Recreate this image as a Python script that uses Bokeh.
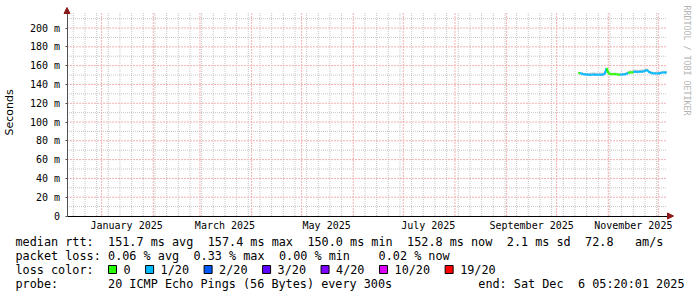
import math
from datetime import datetime

import pandas as pd
from bokeh.plotting import figure
from bokeh.models import (Range1d, FixedTicker, DatetimeTickFormatter,
                          Arrow, NormalHead, ColumnDataSource)
from bokeh.core.properties import value
from bokeh.embed import file_html
from bokeh.resources import INLINE

# ---------------- data ----------------
t_start = datetime(2024, 12, 11, 5, 20, 1)
t_end = datetime(2025, 12, 6, 5, 20, 1)
series_first_day = "2025-10-14"

median_ms = [152.3, 151.9, 151.5, 151.0, 150.6, 150.4, 150.5, 150.2, 150.3, 150.6,
             150.4, 150.1, 150.3, 150.5, 150.2, 150.4, 151.5, 157.4, 152.0, 151.2,
             150.8, 150.9, 151.1, 150.7, 150.5, 150.3, 150.6, 150.4, 150.8, 151.2,
             152.4, 152.8, 152.6, 153.2, 153.6, 153.4, 153.1, 153.7, 153.3, 153.8,
             154.2, 155.6, 154.0, 152.6, 152.1, 151.8, 151.6, 151.9, 151.5, 152.0,
             152.4, 152.9, 152.6, 152.8]
loss_count = [0, 1, 1, 1, 1, 1, 1, 1, 1, 1,
              1, 1, 1, 1, 1, 1, 1, 0, 0, 0,
              0, 0, 0, 0, 0, 1, 1, 1, 1, 1,
              0, 0, 0, 1, 1, 1, 1, 1, 1, 1,
              1, 1, 1, 1, 1, 1, 1, 1, 1, 1,
              1, 1, 1, 1]
smoke_hi_ms = [153.5, 153.2, 152.8, 152.4, 152.0, 151.8, 152.1, 152.3, 152.6, 153.0,
               152.8, 152.5, 152.7, 152.9, 152.4, 152.8, 154.5, 158.5, 154.0, 152.8,
               152.5, 152.6, 152.7, 152.3, 152.0, 151.9, 152.2, 152.0, 152.4, 153.0,
               154.5, 155.0, 154.8, 155.4, 156.0, 155.8, 155.3, 156.2, 155.7, 156.4,
               156.8, 157.5, 156.0, 154.5, 153.8, 153.5, 153.2, 153.6, 153.0, 153.7,
               154.0, 154.6, 154.3, 154.5]
smoke_lo_ms = [151.5, 151.2, 150.8, 150.3, 149.9, 149.8, 149.8, 149.6, 149.7, 149.9,
               149.8, 149.5, 149.7, 149.8, 149.6, 149.8, 150.6, 155.0, 151.2, 150.5,
               150.1, 150.2, 150.4, 150.0, 149.8, 149.6, 149.9, 149.7, 150.1, 150.5,
               151.6, 152.0, 151.8, 152.4, 152.8, 152.6, 152.3, 152.9, 152.5, 153.0,
               153.4, 154.6, 153.2, 151.8, 151.3, 151.0, 150.8, 151.1, 150.7, 151.2,
               151.6, 152.1, 151.8, 152.0]

loss_levels = [0, 1, 2, 3, 4, 10, 19]
loss_labels = ["0", "1/20", "2/20", "3/20", "4/20", "10/20", "19/20"]
loss_colors = ["#26ff00", "#00b8ff", "#0059ff", "#5e00ff", "#7e00ff", "#dd00ff", "#ff0000"]

y_ticks = [0, 20, 40, 60, 80, 100, 120, 140, 160, 180, 200]
y_tick_labels = ["0", "20 m", "40 m", "60 m", "80 m", "100 m", "120 m",
                 "140 m", "160 m", "180 m", "200 m"]
y_minor_ticks = [10, 30, 50, 70, 90, 110, 130, 150, 170, 190, 210]
y_top = 216.5

label_dates = ["2025-01-16", "2025-03-16", "2025-05-16", "2025-07-16",
               "2025-09-16", "2025-11-16"]
month_start_dates = ["2025-01-01", "2025-02-01", "2025-03-01", "2025-04-01",
                     "2025-05-01", "2025-06-01", "2025-07-01", "2025-08-01",
                     "2025-09-01", "2025-10-01", "2025-11-01", "2025-12-01"]
first_week_line = "2024-12-15"

y_axis_title = "Seconds"
side_text = "RRDTOOL / TOBI OETIKER"
rtt_title = "median rtt:"
rtt_stats = ["151.7 ms avg", "157.4 ms max", "150.0 ms min", "152.8 ms now",
             "2.1 ms sd", "72.8", "am/s"]
loss_title = "packet loss:"
loss_stats = ["0.06 % avg", "0.33 % max", "0.00 % min", "0.02 % now"]
color_title = "loss color:"
probe_title = "probe:"
probe_text = "20 ICMP Echo Pings (56 Bytes) every 300s"
end_text = ["end: Sat Dec", "6 05:20:01 2025"]


def ms(d):
    d = pd.Timestamp(d).to_pydatetime()
    return (d - datetime(1970, 1, 1)).total_seconds() * 1000.0


# ---------------- geometry (canvas pixels -> data) ----------------
W, H = 697, 297
PL, PR, PT, PB = 66.5, 666.5, 12.0, 215.5      # plot area in canvas px
x0_ms, x1_ms = ms(t_start), ms(t_end)
mpp = (x1_ms - x0_ms) / (PR - PL)              # ms of time per pixel
vpp = 216.0 / 203.0                            # milliseconds (rtt) per pixel


def px_x(sx):
    return x0_ms + (sx - PL) * mpp


def px_y(sy):
    return (PB - sy) * vpp


p = figure(width=W, height=H, output_backend="svg", toolbar_location=None,
           x_range=Range1d(px_x(0), px_x(W)), y_range=Range1d(px_y(H), px_y(0)),
           x_axis_type="datetime", min_border=0,
           background_fill_color="white", border_fill_color="white")
p.outline_line_color = None
p.xgrid.visible = False
p.ygrid.visible = False

# ---------------- grid ----------------
month_ticks = [ms(d) for d in month_start_dates]
week_ticks = []
w = pd.Timestamp(first_week_line)
while ms(w) < x1_ms:
    if ms(w) not in month_ticks:
        week_ticks.append(ms(w))
    w += pd.Timedelta(days=7)

minor_col, major_col = "#b8b8b8", "#f2b0b0"
p.segment(x0=week_ticks, x1=week_ticks, y0=[0] * len(week_ticks),
          y1=[y_top] * len(week_ticks), line_color=minor_col, line_dash="1 1",
          line_width=1, line_alpha=0.8)
p.segment(x0=[x0_ms] * len(y_minor_ticks), x1=[x1_ms] * len(y_minor_ticks),
          y0=y_minor_ticks, y1=y_minor_ticks, line_color=minor_col, line_dash="1 1",
          line_width=1, line_alpha=0.8)
p.segment(x0=month_ticks, x1=month_ticks, y0=[0] * len(month_ticks),
          y1=[y_top] * len(month_ticks), line_color=major_col, line_dash="2 1",
          line_width=1)
p.segment(x0=[x0_ms] * (len(y_ticks) - 1), x1=[x1_ms] * (len(y_ticks) - 1),
          y0=y_ticks[1:], y1=y_ticks[1:], line_color=major_col, line_dash="2 1",
          line_width=1)

# ---------------- series ----------------
dates = pd.date_range(series_first_day, periods=len(median_ms), freq="D")
xs = [ms(d) for d in dates]
p.varea(x=xs, y1=smoke_lo_ms, y2=smoke_hi_ms, fill_color="#d2d2d2")

color_of = dict(zip(loss_levels, loss_colors))
seg = ColumnDataSource(dict(
    x0=xs[:-1], x1=xs[1:], y0=median_ms[:-1], y1=median_ms[1:],
    c=[color_of[l] for l in loss_count[:-1]]))
p.segment(x0="x0", y0="y0", x1="x1", y1="y1", line_color="c", line_width=2.2, source=seg)

# ---------------- axes (fixed inside the full-canvas frame) ----------------
fmt = "%B %Y"
p.xaxis.fixed_location = 0
p.xaxis.bounds = (x0_ms, px_x(671))
p.xaxis.ticker = FixedTicker(ticks=[ms(d) for d in label_dates])
p.xaxis.formatter = DatetimeTickFormatter(
    microseconds=fmt, milliseconds=fmt, seconds=fmt, minsec=fmt, minutes=fmt,
    hourmin=fmt, hours=fmt, days=fmt, months=fmt, years=fmt)
p.xaxis.major_tick_line_color = None
p.xaxis.minor_tick_line_color = None
p.xaxis.major_tick_out = 0
p.xaxis.major_tick_in = 0
p.xaxis.minor_tick_out = 0
p.xaxis.major_label_standoff = 4
p.xaxis.axis_line_color = "#000000"
p.xaxis.major_label_text_font = "DejaVu Sans Mono"
p.xaxis.major_label_text_font_size = "10px"
p.xaxis.major_label_text_color = "#000000"

p.yaxis.fixed_location = x0_ms
p.yaxis.bounds = (0, px_y(8))
p.yaxis.ticker = FixedTicker(ticks=y_ticks)
p.yaxis.major_label_overrides = dict(zip(y_ticks, y_tick_labels))
p.yaxis.major_tick_out = 2
p.yaxis.major_tick_in = 0
p.yaxis.minor_tick_line_color = None
p.yaxis.major_tick_line_color = "#505050"
p.yaxis.axis_line_color = "#505050"
p.yaxis.major_label_standoff = 5
p.yaxis.major_label_text_font = "DejaVu Sans Mono"
p.yaxis.major_label_text_font_size = "10px"
p.yaxis.major_label_text_color = "#000000"
p.yaxis.axis_label = y_axis_title
p.yaxis.axis_label_text_font = "DejaVu Sans"
p.yaxis.axis_label_text_font_size = "11px"
p.yaxis.axis_label_text_font_style = "normal"
p.yaxis.axis_label_text_color = "#000000"
p.yaxis.axis_label_standoff = 11

# axis arrows
arrow_col = "#8b1a1a"
p.add_layout(Arrow(end=NormalHead(size=6, fill_color=arrow_col, line_color=arrow_col),
                   x_start=x0_ms, y_start=px_y(12), x_end=x0_ms, y_end=px_y(7),
                   line_color=arrow_col, line_width=1))
p.add_layout(Arrow(end=NormalHead(size=6, fill_color=arrow_col, line_color=arrow_col),
                   x_start=px_x(667), y_start=0, x_end=px_x(673), y_end=0,
                   line_color=arrow_col, line_width=1))

# vertical credit text on the right
p.text(x=[px_x(686)], y=[px_y(60)], text=[side_text], angle=-math.pi / 2,
       text_align="center", text_baseline="middle",
       text_font=value("DejaVu Sans Mono"), text_font_size="8.3px",
       text_color="#b4b4b4")

# ---------------- legend block ----------------
X0, CW = 15, 7.12
rows_px = [241, 255, 269, 283]
tx, ty, tt = [], [], []


def put(col, row, s):
    tx.append(px_x(X0 + col * CW))
    ty.append(px_y(rows_px[row]))
    tt.append(s)


put(0, 0, rtt_title)
for c, s in zip([13, 27, 41, 55, 69, 80, 87], rtt_stats):
    put(c, 0, s)
put(0, 1, loss_title)
for c, s in zip([13, 25, 37, 51], loss_stats):
    put(c, 1, s)
put(0, 2, color_title)
put(0, 3, probe_title)
put(13, 3, probe_text)
put(65, 3, end_text[0])
put(79, 3, end_text[1])

sq_l, sq_r = [], []
xpix = 108.0
for lab in loss_labels:
    sq_l.append(px_x(xpix))
    sq_r.append(px_x(xpix + 8))
    tx.append(px_x(xpix + 15))
    ty.append(px_y(rows_px[2]))
    tt.append(lab)
    xpix = xpix + 15 + len(lab) * CW + 15

n = len(sq_l)
p.quad(left=sq_l, right=sq_r, top=[px_y(rows_px[2] - 4)] * n,
       bottom=[px_y(rows_px[2] + 4)] * n,
       fill_color=loss_colors, line_color="#000000", line_width=1)
p.text(x=tx, y=ty, text=tt, text_font=value("DejaVu Sans Mono"),
       text_font_size="11.8px", text_baseline="middle", text_align="left",
       text_color="#000000")

open("out.html", "w").write(file_html(p, INLINE))
